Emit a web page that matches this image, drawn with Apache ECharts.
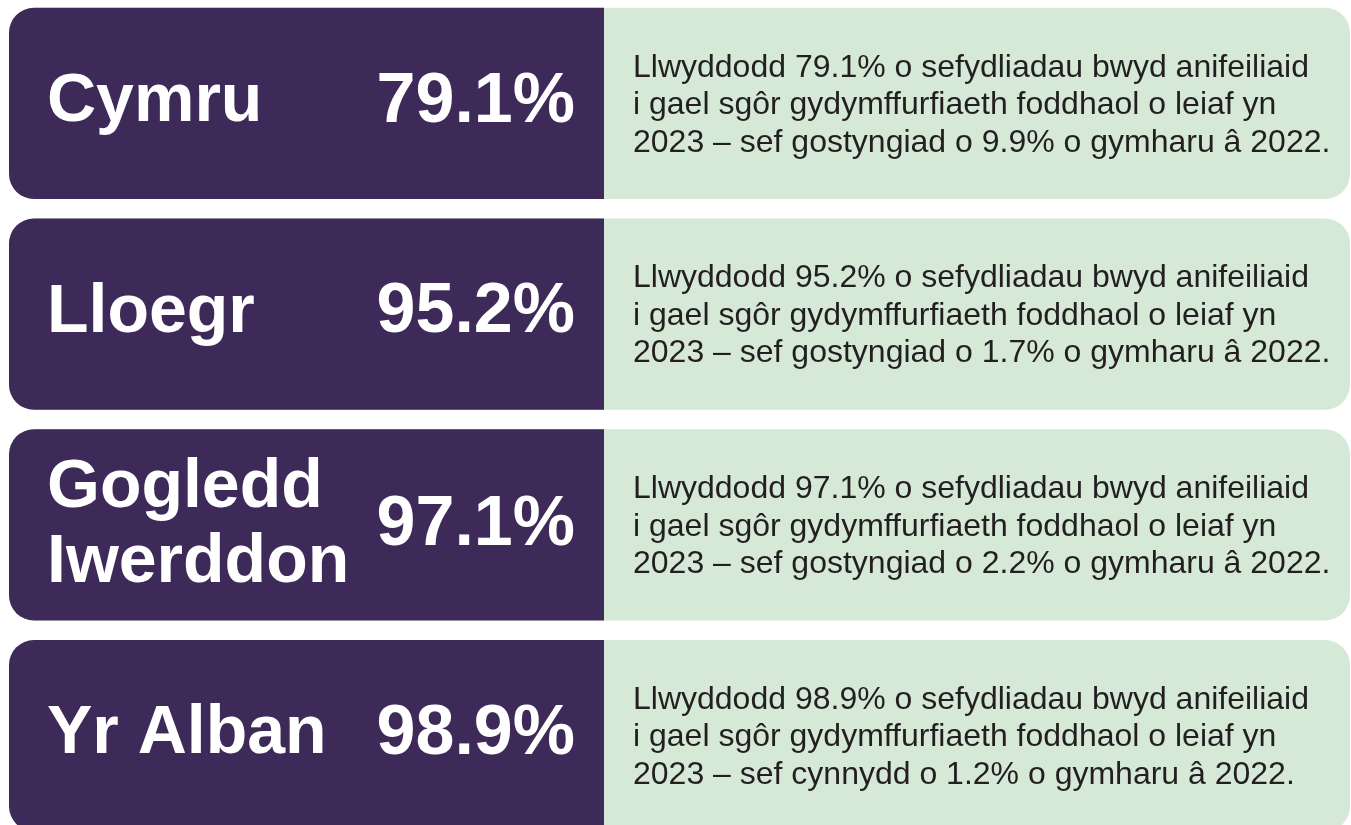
<!DOCTYPE html>
<html>
<head>
<meta charset="utf-8">
<script src="https://cdn.jsdelivr.net/npm/echarts@6/dist/echarts.min.js"></script>
<style>
  html, body { margin: 0; padding: 0; background: #fff; }
  #main { width: 1351px; height: 825px; }
</style>
</head>
<body>
<div id="main"></div>
<script>
// data
const countries = ['Cymru', 'Lloegr', 'Gogledd\nIwerddon', 'Yr Alban'];
const rates = [79.1, 95.2, 97.1, 98.9];
const changeWords = ['gostyngiad', 'gostyngiad', 'gostyngiad', 'cynnydd'];
const changes = [9.9, 1.7, 2.2, 1.2];
const years = [2023, 2022];

const purple = '#3d2a59';
const green = '#d5e9d6';
const textDark = '#231f20';
const font = '"Liberation Sans", Arial, Helvetica, sans-serif';

function describe(i) {
  return 'Llwyddodd ' + rates[i].toFixed(1) + '% o sefydliadau bwyd anifeiliaid\n' +
    'i gael sgôr gydymffurfiaeth foddhaol o leiaf yn\n' +
    years[0] + ' – sef ' + changeWords[i] + ' o ' + changes[i].toFixed(1) + '% o gymharu â ' + years[1] + '.';
}

const chart = echarts.init(document.getElementById('main'));

chart.setOption({
  animation: false,
  // rows run past the bottom edge, like the cropped original
  grid: { left: 0, width: 1351, top: -2, height: 843, outerBoundsMode: 'none', containLabel: false },
  xAxis: { type: 'value', min: 0, max: 1351, show: false },
  yAxis: { type: 'category', data: countries, inverse: true, show: false },
  series: [{
    type: 'custom',
    clip: false,
    data: rates.map((r, i) => [r, i]),
    renderItem: function (params, api) {
      const i = api.value(1);
      const cy = api.coord([0, i])[1];
      const h = api.size([0, 1])[1] * 0.907;
      const top = cy - h / 2;
      const left = api.coord([9, i])[0];
      const split = api.coord([604, i])[0];
      const right = api.coord([1350, i])[0];
      const twoLine = countries[i].indexOf('\n') >= 0;
      return {
        type: 'group',
        children: [
          {
            type: 'rect',
            shape: { x: left, y: top, width: right - left, height: h, r: 25 },
            style: { fill: green }
          },
          {
            type: 'rect',
            shape: { x: left, y: top, width: split - left, height: h, r: [25, 0, 0, 25] },
            style: { fill: purple }
          },
          {
            type: 'text',
            style: {
              text: countries[i],
              x: 47, y: cy + (twoLine ? 1 : -1),
              fill: '#fff',
              fontSize: 68, fontWeight: 'bold', fontFamily: font,
              lineHeight: 75,
              align: 'left', verticalAlign: 'middle'
            }
          },
          {
            type: 'text',
            style: {
              text: api.value(0).toFixed(1) + '%',
              x: 575, y: cy + (twoLine ? 1 : -1),
              fill: '#fff',
              fontSize: 70, fontWeight: 'bold', fontFamily: font,
              align: 'right', verticalAlign: 'middle'
            }
          },
          {
            type: 'text',
            style: {
              text: describe(i),
              x: 633, y: cy + 2,
              fill: textDark,
              fontSize: 32, fontFamily: font,
              lineHeight: 37.5,
              align: 'left', verticalAlign: 'middle'
            }
          }
        ]
      };
    }
  }]
});
</script>
</body>
</html>
